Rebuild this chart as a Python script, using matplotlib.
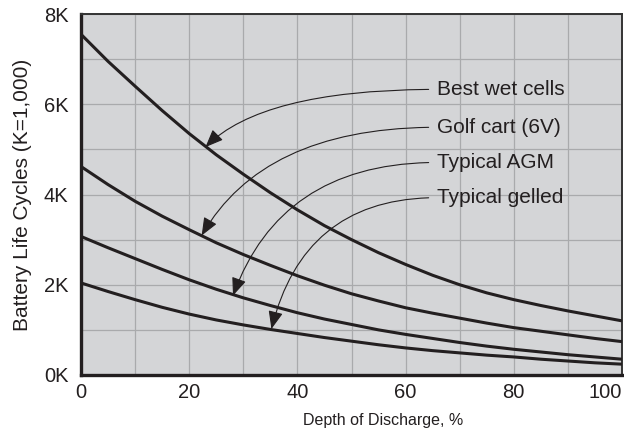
import matplotlib
matplotlib.use("Agg")
import matplotlib.pyplot as plt

# 방전 깊이 (%)
dod = [0, 5, 10, 15, 20, 25, 30, 35, 40, 45, 50, 55, 60, 65, 70, 75, 80, 85, 90, 95, 100]

# 수명 사이클 (K=1,000)
best_wet = [7.55, 6.95, 6.40, 5.86, 5.35, 4.88, 4.45, 4.04, 3.66, 3.31, 3.00,
            2.71, 2.45, 2.21, 2.00, 1.82, 1.67, 1.54, 1.42, 1.31, 1.20]
golf_cart = [4.62, 4.22, 3.85, 3.52, 3.22, 2.93, 2.67, 2.43, 2.20, 1.99, 1.80,
             1.64, 1.49, 1.37, 1.26, 1.15, 1.05, 0.97, 0.89, 0.81, 0.74]
agm = [3.07, 2.82, 2.58, 2.34, 2.11, 1.90, 1.71, 1.54, 1.38, 1.24, 1.12,
       1.00, 0.90, 0.81, 0.72, 0.64, 0.57, 0.51, 0.45, 0.40, 0.35]
gelled = [2.04, 1.85, 1.67, 1.50, 1.35, 1.22, 1.11, 1.01, 0.92, 0.83, 0.75,
          0.67, 0.60, 0.54, 0.49, 0.44, 0.40, 0.35, 0.31, 0.27, 0.24]

labels = ["Best wet cells", "Golf cart (6V)", "Typical AGM", "Typical gelled"]
label_y = [6.33, 5.49, 4.71, 3.93]
arrow_x = [23.0, 22.3, 28.1, 35.2]
arrow_y = [5.05, 3.09, 1.76, 1.02]
arrow_ang = [45, 60, 70, 76]

x_ticks = [0, 20, 40, 60, 80, 100]
y_ticks = [0, 2, 4, 6, 8]
y_ticklabels = ["0K", "2K", "4K", "6K", "8K"]

plt.rcParams['font.family'] = ['Liberation Sans', 'DejaVu Sans']
ink = '#231f20'

fig = plt.figure(figsize=(6.24, 4.28), dpi=100)
ax = fig.add_axes([81/624, 1-375/428, 541/624, 361/428])
ax.set_facecolor('#d4d5d7')

for ys in [best_wet, golf_cart, agm, gelled]:
    ax.plot(dod, ys, color=ink, lw=2.2, solid_capstyle='butt', zorder=3)

ax.set_xlim(0, 100)
ax.set_ylim(0, 8)
ax.set_xticks(x_ticks)
ax.set_xticks(range(0, 101, 10), minor=True)
ax.set_yticks(y_ticks)
ax.set_yticks([i for i in range(0, 9)], minor=True)
ax.set_yticklabels(y_ticklabels)
ax.grid(True, which='both', color='#a9aaac', lw=0.9, zorder=0)
ax.set_axisbelow(True)
ax.tick_params(which='both', length=0, labelsize=14.5, colors=ink)
ax.tick_params(axis='y', pad=9)
ax.tick_params(axis='x', pad=6)
ax.get_xticklabels()[-1].set_horizontalalignment('right')

for side in ['left', 'bottom']:
    ax.spines[side].set_linewidth(2.4)
    ax.spines[side].set_color(ink)
for side in ['top', 'right']:
    ax.spines[side].set_linewidth(1.4)
    ax.spines[side].set_color('#333333')

ax.set_xlabel('Depth of Discharge, %', fontsize=11.5, color=ink)
ax.xaxis.set_label_coords(0.558, -0.105)
ax.set_ylabel('Battery Life Cycles (K=1,000)', fontsize=15, color=ink)
ax.yaxis.set_label_coords(-0.09, 0.5)

for i in range(len(labels)):
    ax.annotate(labels[i], xy=(arrow_x[i], arrow_y[i]), xytext=(65.8, label_y[i]),
                fontsize=15, color=ink, ha='left', va='center', zorder=5,
                arrowprops=dict(arrowstyle='-|>,head_length=1.1,head_width=0.45',
                                mutation_scale=10, color=ink, lw=0.8,
                                connectionstyle='angle3,angleA=0,angleB=%d' % arrow_ang[i],
                                relpos=(0, 0.5), shrinkA=4, shrinkB=0))

plt.savefig('out.png', dpi=100)
